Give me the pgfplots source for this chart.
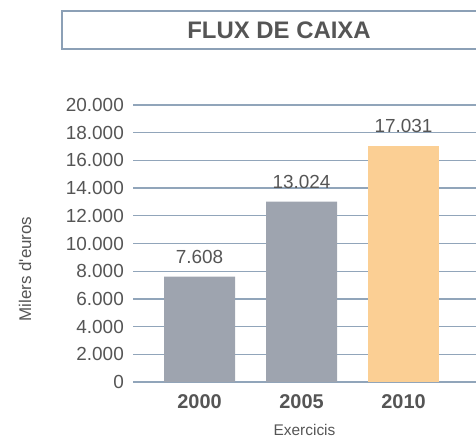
\documentclass[border=0pt]{standalone}
\usepackage{pgfplots}
\pgfplotsset{compat=1.18}
\usepackage{fontspec}
\setmainfont{Liberation Sans}
\definecolor{txt}{RGB}{85,85,85}
\definecolor{gridc}{RGB}{145,165,186}
\definecolor{boxc}{RGB}{140,160,182}
\definecolor{bargray}{RGB}{158,164,175}
\definecolor{barorange}{RGB}{251,207,148}
\begin{document}
\begin{tikzpicture}
\useasboundingbox (0bp,0bp) rectangle (476bp,439bp);
\draw[boxc, line width=2bp] (62bp,390bp) rectangle (495bp,428bp);
\node[font=\fontsize{24}{28}\selectfont\bfseries, text=txt] at (279bp,409bp) {FLUX DE CAIXA};
\begin{axis}[
  at={(133bp,57bp)}, anchor=south west,
  scale only axis, width=343bp, height=277bp,
  xmin=-0.652, xmax=2.71, ymin=0, ymax=20000,
  axis line style={draw=none},
  major tick length=0pt,
  scaled y ticks=false,
  ytick={0,2000,...,20000},
  xtick={0,1,2},
  xticklabels={2000,2005,2010},
  ymajorgrids,
  grid style={gridc, line width=1.3bp},
  /pgf/number format/.cd, 1000 sep={.}, assume math mode=true,
  /pgfplots/.cd,
  tick label style={text=txt, font=\fontsize{19}{22}\selectfont},
  yticklabel style={inner sep=0pt, xshift=-9bp},
  xticklabel style={inner sep=0pt, anchor=north, yshift=-12bp, font=\fontsize{20}{23}\selectfont\bfseries},
  xlabel={Exercicis},
  ylabel={Milers d\textquotesingle euros},
  xlabel style={at={(axis description cs:0.5,-0.174)}, anchor=center, inner sep=0pt, text=txt, font=\fontsize{15.5}{18}\selectfont},
  ylabel style={at={(axis description cs:-0.315,0.408)}, anchor=center, inner sep=0pt, text=txt, font=\fontsize{17}{20}\selectfont},
  ybar, bar width=71bp,
  nodes near coords,
  nodes near coords style={anchor=south, inner sep=0pt, yshift=13bp, text=txt, font=\fontsize{19}{22}\selectfont},
  clip=false,
]
\addplot[fill=bargray, draw=none, bar shift=0pt] coordinates {(0,7608) (1,13024)};
\addplot[fill=barorange, draw=none, bar shift=0pt] coordinates {(2,17031)};
\end{axis}
\end{tikzpicture}
\end{document}
